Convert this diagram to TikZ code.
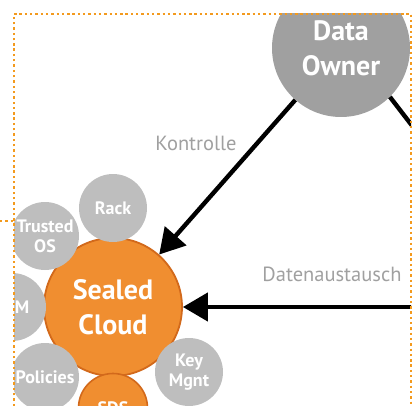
\documentclass[tikz,border=0pt]{standalone}
\usepackage{fontspec}
\setmainfont{PT Sans}
\usetikzlibrary{arrows.meta}
\definecolor{sealorange}{HTML}{F08E30}
\definecolor{sealrim}{HTML}{D2691B}
\definecolor{framedots}{HTML}{F39A1E}
\definecolor{bubblegray}{HTML}{BEBEBE}
\definecolor{ownergray}{HTML}{A0A0A0}
\definecolor{labelgray}{HTML}{A0A0A0}
\tikzset{
  bubble/.style={circle,fill=bubblegray,text=white,inner sep=0pt,minimum size=68pt,
    align=center,font=\bfseries\fontsize{18}{20}\selectfont},
  orangebubble/.style={bubble,fill=sealorange,draw=sealrim,line width=1.6pt},
  bigbubble/.style={bubble,minimum size=138pt,font=\bfseries\fontsize{28}{35}\selectfont},
  flow/.style={line width=4.4pt,-{Triangle[length=25pt,width=28pt]}},
  flowlabel/.style={text=labelgray,font=\fontsize{20.5}{22}\selectfont},
  frame/.style={framedots,line width=2.4pt,dash pattern=on 2.4pt off 2.9pt}
}
\begin{document}
\begin{tikzpicture}[x=1pt,y=-1pt]
  \useasboundingbox (0,0) rectangle (417,406);
  \begin{scope}
    \clip (14,14) rectangle (411,406);
    \node[bigbubble,fill=ownergray] (owner) at (341,48) {Data\\Owner};
    \node[bigbubble,fill=sealorange,draw=sealrim,line width=1.8pt] (cloud) at (113,307) {Sealed\\Cloud};
    \node[bubble] (rack) at (113,208) {Rack};
    \node[bubble] (trustedos) at (45,236) {Trusted\\OS};
    \node[bubble] (tpm) at (12,307) {\hspace*{20pt}M};
    \node[bubble] (policies) at (45,377) {Policies};
    \node[orangebubble,minimum size=69pt] (sds) at (113,408) {SDS};
    \node[bubble] (keymgnt) at (189,372) {Key\\Mgnt};
    \coordinate (peer) at (500,240);
    \coordinate (partner) at (500,307);
    \begin{scope}[line cap=butt]
      \draw[flow] (owner) -- (cloud);
      \draw[line width=4.4pt] (owner.-45) -- (peer);
      \draw[flow] (partner) -- (cloud);
    \end{scope}
    \node[flowlabel] (kontrolle) at (196,143) {Kontrolle};
    \node[flowlabel,anchor=east] (austausch) at (405,274) {Datenaustausch};
  \end{scope}
  \draw[frame] (14,406) -- (14,14) -- (411,14) -- (411,406);
  \draw[frame] (0,221) -- (14,221);
\end{tikzpicture}
\end{document}
